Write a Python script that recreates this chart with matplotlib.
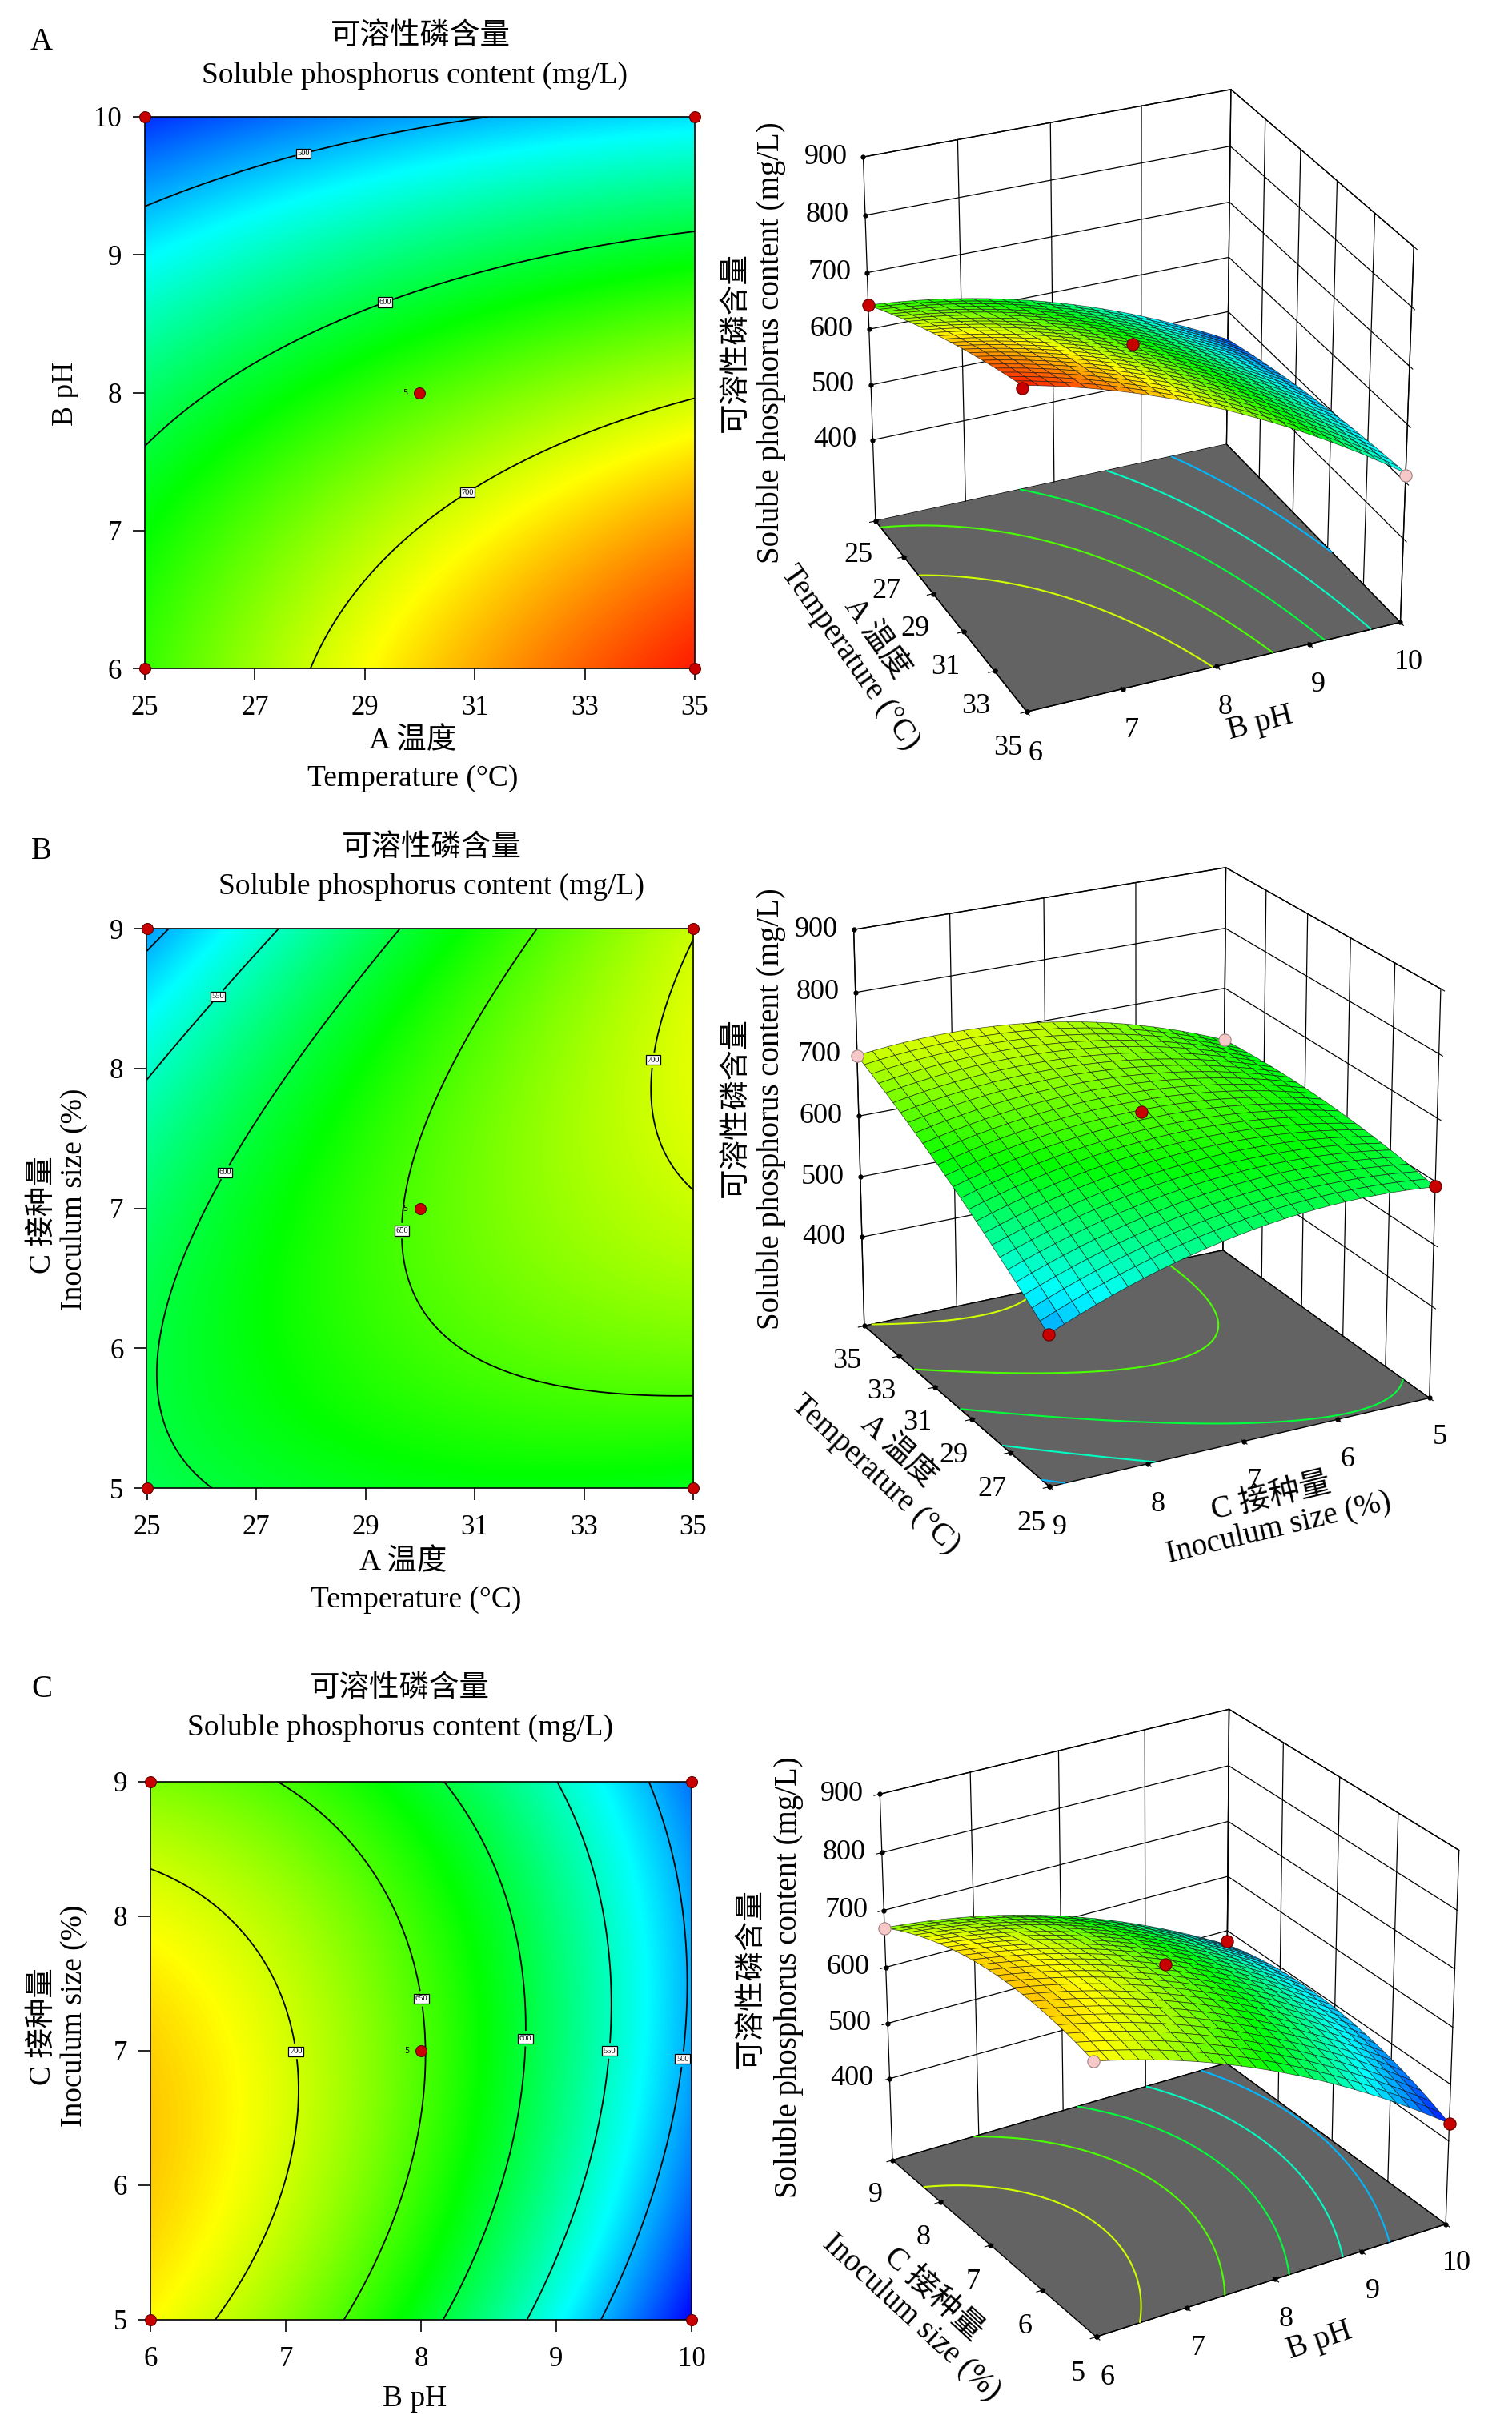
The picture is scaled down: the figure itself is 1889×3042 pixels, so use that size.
import numpy as np
import matplotlib
matplotlib.use("Agg")
import matplotlib.pyplot as plt
from matplotlib.colors import LinearSegmentedColormap, Normalize

plt.rcParams['font.family'] = ['Liberation Serif', 'Noto Sans CJK SC']
plt.rcParams['axes.unicode_minus'] = False

W, H, DPI = 1890, 3042, 100

# ---------------- data ----------------
temp_range = [25, 35]
temp_ticks = [25, 27, 29, 31, 33, 35]
ph_range = [6, 10]
ph_ticks = [6, 7, 8, 9, 10]
inoc_range = [5, 9]
inoc_ticks = [5, 6, 7, 8, 9]
resp_ticks = [400, 500, 600, 700, 800, 900]
resp_floor = 250
resp_top = 900

# quadratic response-surface coefficients (coded units):
# [b0, b_u, b_v, b_uu, b_vv, b_uv]
coef_A = [650.0, 57.3, -120.8, -10.2, -37.0, -23.6]     # u = temperature, v = pH
coef_B = [653.6, 57.55, -4.15, -13.75, -41.7, 46.95]    # u = temperature, v = inoculum
coef_C = [652.0, -120.8, -1.7, -37.0, -41.7, 23.0]      # u = pH, v = inoculum

levels_A = [500, 600, 700]
levels_B = [500, 550, 600, 650, 700]
levels_C = [500, 550, 600, 650, 700]
floor_levels = [500, 550, 600, 650, 700]

label_pos_A = [(27.85, 9.78), (29.3, 8.73), (30.75, 7.35)]
label_pos_B = [(26.27, 8.525), (26.37, 7.27), (29.65, 6.84), (34.25, 8.06)]
label_pos_C = [(8.02, 7.39), (7.1, 7.0), (8.79, 7.09), (9.39, 7.0), (9.92, 6.94)]

# design points shown on the 3D plots: (u, v, response, above_surface)
pts3d_A = [(25, 6, 643, True), (35, 6, 800, True), (30, 8, 655, True), (35, 10, 512, False)]
pts3d_B = [(35, 9, 698, False), (25, 9, 489, True), (30, 7, 658, True), (25, 5, 592, True), (35, 5, 613, False)]
pts3d_C = [(6, 9, 669, False), (6, 5, 719, False), (8, 7, 657, True), (10, 9, 480, True), (10, 5, 431, True)]

center_runs = 5

cmap = LinearSegmentedColormap.from_list(
    'de', ['#0000ff', '#00ffff', '#00ff00', '#ffff00', '#ff0000'])
norm = Normalize(430, 815)

RED = '#c80000'
PINK = '#f7c8c8'


def model(coef, u, v, ur, vr):
    cu = (u - (ur[0] + ur[1]) / 2) / ((ur[1] - ur[0]) / 2)
    cv = (v - (vr[0] + vr[1]) / 2) / ((vr[1] - vr[0]) / 2)
    b0, bu, bv, buu, bvv, buv = coef
    return b0 + bu * cu + bv * cv + buu * cu ** 2 + bvv * cv ** 2 + buv * cu * cv


fig = plt.figure(figsize=(W / DPI, H / DPI), dpi=DPI)


def px_rect(l, t, r, b):
    return [l / W, 1 - b / H, (r - l) / W, (b - t) / H]


def sq_rect(cx, cy, side):
    return px_rect(cx - side / 2, cy - side / 2, cx + side / 2, cy + side / 2)


def ftext(x, y, s, **kw):
    return fig.text(x / W, 1 - y / H, s, **kw)


def contour2d(rect, coef, ur, vr, uticks, vticks, levels, lpos):
    ax = fig.add_axes(rect)
    uu = np.linspace(ur[0], ur[1], 400)
    vv = np.linspace(vr[0], vr[1], 400)
    U, V = np.meshgrid(uu, vv)
    Z = model(coef, U, V, ur, vr)
    ax.imshow(Z, extent=[ur[0], ur[1], vr[0], vr[1]], origin='lower',
              cmap=cmap, norm=norm, aspect='auto', interpolation='bilinear')
    cs = ax.contour(U, V, Z, levels=levels, colors='black', linewidths=1.3)
    txts = ax.clabel(cs, fmt='%d', fontsize=7.5, inline=True, inline_spacing=2,
                     manual=lpos)
    for t in txts:
        t.set_bbox(dict(boxstyle='square,pad=0.15', fc='white', ec='black', lw=0.9))
        t.set_rotation(0)
    cu = [ur[0], ur[1], ur[0], ur[1]]
    cv = [vr[0], vr[0], vr[1], vr[1]]
    ax.plot(cu, cv, 'o', ms=10, mfc=RED, mec='#600000', mew=0.8,
            clip_on=False, zorder=10)
    mu, mv = (ur[0] + ur[1]) / 2, (vr[0] + vr[1]) / 2
    ax.plot([mu], [mv], 'o', ms=10, mfc=RED, mec='#600000', mew=0.8, zorder=10)
    ax.text(mu - (ur[1] - ur[0]) * 0.022, mv, str(center_runs), fontsize=7,
            ha='right', va='center', family='DejaVu Sans')
    ax.set_xlim(ur)
    ax.set_ylim(vr)
    ax.set_xticks(uticks)
    ax.set_yticks(vticks)
    ax.tick_params(direction='out', length=10.8, width=1.2, labelsize=25,
                   pad=10)
    ax.tick_params(axis='x', pad=13)
    for s in ax.spines.values():
        s.set_linewidth(1.2)
    return ax


surf_axes = []


def surface3d(rect, coef, ur, vr, uticks, vticks, elev, azim, aspect, zoom,
              focal, pts):
    ax = fig.add_axes(rect, projection='3d', computed_zorder=False)
    ax.set_proj_type('persp', focal_length=focal)
    ax.view_init(elev=elev, azim=azim)
    ax.set_box_aspect(aspect, zoom=zoom)
    ax.set_xlim(ur)
    ax.set_ylim(vr)
    ax.set_zlim(resp_floor, resp_top)
    ax.set_xticks(uticks)
    ax.set_yticks(vticks)
    ax.set_zticks(resp_ticks)
    ax.set_zticklabels([])
    ax.grid(False)
    ax.xaxis.set_pane_color((1, 1, 1, 1))
    ax.yaxis.set_pane_color((1, 1, 1, 1))
    ax.zaxis.set_pane_color((0.39, 0.39, 0.39, 1))
    for a in (ax.xaxis, ax.yaxis, ax.zaxis):
        a.pane.set_edgecolor('black')
        a.pane.set_linewidth(1.0)
        a.line.set_color('black')
        a.line.set_linewidth(1.0)
    ax.zaxis.line.set_visible(False)
    ax.tick_params(axis='z', length=0, width=0)
    ax.tick_params(axis='x', labelsize=26, pad=8)
    ax.tick_params(axis='y', labelsize=26, pad=8)

    az = np.deg2rad(azim)
    xwall = ur[0] if np.cos(az) > 0 else ur[1]
    ywall = vr[0] if np.sin(az) > 0 else vr[1]
    xf = ur[1] if np.cos(az) > 0 else ur[0]
    yf = vr[1] if np.sin(az) > 0 else vr[0]
    rx, ry = -np.sin(az), np.cos(az)
    xl = ur[0] if rx > 0 else ur[1]
    yl = vr[0] if ry > 0 else vr[1]
    gkw = dict(color='black', lw=0.9, zorder=1)
    for v in vticks:
        ax.plot([xwall, xwall], [v, v], [resp_floor, resp_top], **gkw)
    for u in uticks:
        ax.plot([u, u], [ywall, ywall], [resp_floor, resp_top], **gkw)
    for z in resp_ticks:
        ax.plot([xwall, xwall], [vr[0], vr[1]], [z, z], **gkw)
        ax.plot([ur[0], ur[1]], [ywall, ywall], [z, z], **gkw)
        ax.plot([xl], [yl], [z], 'o', ms=3.5, color='black', zorder=1)
    # tick dots along the two front floor edges
    ax.plot(uticks, [yf] * len(uticks), [resp_floor] * len(uticks), 'o',
            ms=3.5, color='black', zorder=2.5)
    ax.plot([xf] * len(vticks), vticks, [resp_floor] * len(vticks), 'o',
            ms=3.5, color='black', zorder=2.5)

    n = 26
    uu = np.linspace(ur[0], ur[1], n)
    vv = np.linspace(vr[0], vr[1], n)
    U, V = np.meshgrid(uu, vv)
    Z = model(coef, U, V, ur, vr)
    uf = np.linspace(ur[0], ur[1], 200)
    vf = np.linspace(vr[0], vr[1], 200)
    UF, VF = np.meshgrid(uf, vf)
    ZF = model(coef, UF, VF, ur, vr)
    ax.contour(UF, VF, ZF, levels=floor_levels, zdir='z', offset=resp_floor,
               cmap=cmap, norm=norm, linewidths=1.5, zorder=2)
    ax.plot_surface(U, V, Z, facecolors=cmap(norm(Z)), rstride=1, cstride=1,
                    linewidth=0.55, edgecolor=(0.05, 0.05, 0.05, 0.7),
                    shade=False, zorder=3, antialiased=True)
    for (u, v, z, above) in pts:
        ax.plot([u], [v], [z], 'o', ms=11, mfc=RED if above else PINK,
                mec='#600000' if above else '#a08080', mew=0.8, zorder=5)
    ax.set_xlabel('')
    ax.set_ylabel('')
    ax.set_zlabel('')
    surf_axes.append((ax, xl, yl))
    return ax


FOCAL = 1.1

# ---------------- Row A ----------------
contour2d(px_rect(181, 146, 868, 835), coef_A, temp_range, ph_range,
          temp_ticks, ph_ticks, levels_A, label_pos_A)
ftext(52, 52, 'A', fontsize=28, ha='center', va='center')
ftext(525, 45, '可溶性磷含量', fontsize=27, ha='center', va='center')
ftext(518, 94, 'Soluble phosphorus content (mg/L)', fontsize=27, ha='center', va='center')
ftext(516, 926, 'A 温度', fontsize=27, ha='center', va='center')
ftext(516, 973, 'Temperature (°C)', fontsize=27, ha='center', va='center')
ftext(82, 492, 'B pH', fontsize=27, ha='center', va='center', rotation=90)

surface3d(sq_rect(1403, 499, 862), coef_A, temp_range, ph_range,
          temp_ticks, ph_ticks, 28, -24.2, (1, 1, 1.03), 1.0, FOCAL, pts3d_A)
ftext(919, 428, '可溶性磷含量', fontsize=27, ha='center', va='center', rotation=90)
ftext(963, 428, 'Soluble phosphorus content (mg/L)', fontsize=28, ha='center', va='center', rotation=90)
ftext(1078, 810, 'A 温度\nTemperature (°C)', fontsize=28, ha='center', va='center',
      rotation=-54.8, multialignment='center', linespacing=1.1)
ftext(1575, 904, 'B pH', fontsize=28, ha='center', va='center', rotation=14.5)

# ---------------- Row B ----------------
contour2d(px_rect(183.5, 1160, 866, 1859), coef_B, temp_range, inoc_range,
          temp_ticks, inoc_ticks, levels_B, label_pos_B)
ftext(52, 1064, 'B', fontsize=28, ha='center', va='center')
ftext(539, 1059, '可溶性磷含量', fontsize=27, ha='center', va='center')
ftext(539, 1107, 'Soluble phosphorus content (mg/L)', fontsize=27, ha='center', va='center')
ftext(504, 1952, 'A 温度', fontsize=27, ha='center', va='center')
ftext(520, 1999, 'Temperature (°C)', fontsize=27, ha='center', va='center')
ftext(54, 1518, 'C 接种量', fontsize=27, ha='center', va='center', rotation=90)
ftext(93, 1498, 'Inoculum size (%)', fontsize=27, ha='center', va='center', rotation=90)

surface3d(sq_rect(1414, 1466, 900), coef_B, temp_range, inoc_range,
          temp_ticks, inoc_ticks, 22, 152, (1, 1, 1.02), 1.0, FOCAL, pts3d_B)
ftext(919, 1383, '可溶性磷含量', fontsize=27, ha='center', va='center', rotation=90)
ftext(963, 1385, 'Soluble phosphorus content (mg/L)', fontsize=28, ha='center', va='center', rotation=90)
ftext(1107, 1828, 'A 温度\nTemperature (°C)', fontsize=28, ha='center', va='center',
      rotation=-43, multialignment='center', linespacing=1.1)
ftext(1593, 1890, 'C 接种量\nInoculum size (%)', fontsize=28, ha='center', va='center',
      rotation=13.5, multialignment='center', linespacing=1.1)

# ---------------- Row C ----------------
contour2d(px_rect(188, 2226, 864, 2898), coef_C, ph_range, inoc_range,
          ph_ticks, inoc_ticks, levels_C, label_pos_C)
ftext(52, 2111, 'C', fontsize=28, ha='center', va='center')
ftext(499, 2109, '可溶性磷含量', fontsize=27, ha='center', va='center')
ftext(500, 2158, 'Soluble phosphorus content (mg/L)', fontsize=27, ha='center', va='center')
ftext(518, 2997, 'B pH', fontsize=27, ha='center', va='center')
ftext(54, 2532, 'C 接种量', fontsize=27, ha='center', va='center', rotation=90)
ftext(93, 2518, 'Inoculum size (%)', fontsize=27, ha='center', va='center', rotation=90)

surface3d(sq_rect(1444, 2524, 866), coef_C, ph_range, inoc_range,
          ph_ticks, inoc_ticks, 27, -121.8, (1, 1, 1.01), 1.0, FOCAL, pts3d_C)
ftext(938, 2471, '可溶性磷含量', fontsize=27, ha='center', va='center', rotation=90)
ftext(985, 2470, 'Soluble phosphorus content (mg/L)', fontsize=28, ha='center', va='center', rotation=90)
ftext(1152, 2881, 'C 接种量\nInoculum size (%)', fontsize=28, ha='center', va='center',
      rotation=-42.7, multialignment='center', linespacing=1.1)
ftext(1648, 2924, 'B pH', fontsize=28, ha='center', va='center', rotation=18.5)

# response tick labels along the left vertical edge, projected by the 3D axes
fig.canvas.draw()
for ax, xl, yl in surf_axes:
    M = ax.get_proj()
    for z in resp_ticks:
        vec = M @ np.array([xl, yl, z, 1.0])
        px, py = vec[0] / vec[3], vec[1] / vec[3]
        dx, dy = ax.transData.transform((px, py))
        fig.text((dx - 20) / W, dy / H, str(z), fontsize=26, ha='right', va='center')

fig.savefig('out.png', dpi=DPI)
